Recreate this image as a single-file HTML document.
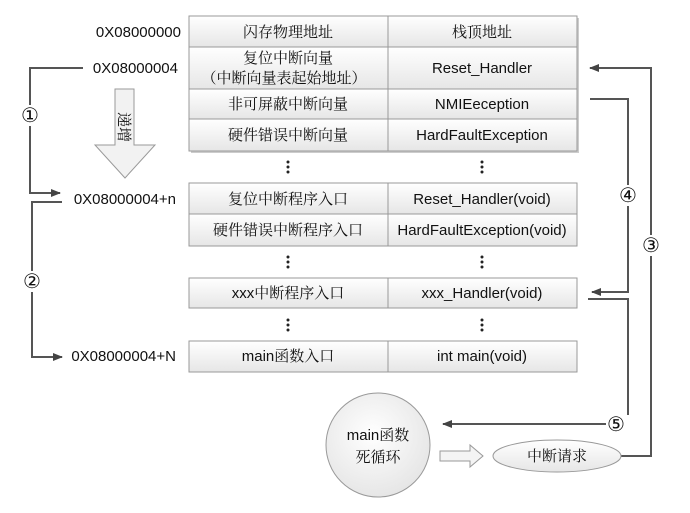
<!DOCTYPE html>
<html><head><meta charset="utf-8"><style>
html,body{margin:0;padding:0;background:#fff;}
svg{display:block;}
text{font-family:"Liberation Sans","Noto Sans CJK SC",sans-serif;font-size:15px;fill:#111;}
.cn{font-family:"Noto Serif CJK SC","Liberation Serif",serif;font-size:15px;}
.num{font-family:"DejaVu Sans",sans-serif;font-size:20px;}
</style></head><body>
<svg width="690" height="513" viewBox="0 0 690 513" xmlns="http://www.w3.org/2000/svg">
<defs>
<linearGradient id="g" x1="0" y1="0" x2="0" y2="1"><stop offset="0" stop-color="#ffffff"/><stop offset="1" stop-color="#e6e6e6"/></linearGradient>
<radialGradient id="rg" cx="0.45" cy="0.4" r="0.7"><stop offset="0" stop-color="#ffffff"/><stop offset="1" stop-color="#e2e2e2"/></radialGradient>
<marker id="ah" markerWidth="10" markerHeight="8" refX="9" refY="4" orient="auto" markerUnits="userSpaceOnUse"><path d="M0,0 L10,4 L0,8 Z" fill="#444"/></marker>
</defs>
<g stroke="#999" stroke-width="1">
<rect x="191" y="18" width="388" height="135" fill="#ccc" stroke="none"/>
<rect x="189" y="16" width="388" height="31" fill="url(#g)"/>
<rect x="189" y="47" width="388" height="42" fill="url(#g)"/>
<rect x="189" y="89" width="388" height="30" fill="url(#g)"/>
<rect x="189" y="119" width="388" height="32" fill="url(#g)"/>
<line x1="388" y1="16" x2="388" y2="151"/>
<rect x="189" y="183" width="388" height="31" fill="url(#g)"/>
<rect x="189" y="214" width="388" height="32" fill="url(#g)"/>
<line x1="388" y1="183" x2="388" y2="246"/>
<rect x="189" y="278" width="388" height="30" fill="url(#g)"/>
<line x1="388" y1="278" x2="388" y2="308"/>
<rect x="189" y="341" width="388" height="31" fill="url(#g)"/>
<line x1="388" y1="341" x2="388" y2="372"/>
</g>
<text x="288" y="37" text-anchor="middle" class="cn">闪存物理地址</text>
<text x="482" y="37" text-anchor="middle" class="cn">栈顶地址</text>
<text x="288" y="63" text-anchor="middle" class="cn">复位中断向量</text>
<text x="284" y="83" text-anchor="middle" class="cn">（中断向量表起始地址）</text>
<text x="482" y="73" text-anchor="middle">Reset_Handler</text>
<text x="288" y="109" text-anchor="middle" class="cn">非可屏蔽中断向量</text>
<text x="482" y="109" text-anchor="middle">NMIEeception</text>
<text x="288" y="140" text-anchor="middle" class="cn">硬件错误中断向量</text>
<text x="482" y="140" text-anchor="middle">HardFaultException</text>
<text x="288" y="204" text-anchor="middle" class="cn">复位中断程序入口</text>
<text x="482" y="204" text-anchor="middle">Reset_Handler(void)</text>
<text x="288" y="235" text-anchor="middle" class="cn">硬件错误中断程序入口</text>
<text x="482" y="235" text-anchor="middle">HardFaultException(void)</text>
<text x="288" y="298" text-anchor="middle"><tspan>xxx</tspan><tspan class="cn">中断程序入口</tspan></text>
<text x="482" y="298" text-anchor="middle">xxx_Handler(void)</text>
<text x="288" y="361" text-anchor="middle"><tspan>main</tspan><tspan class="cn">函数入口</tspan></text>
<text x="482" y="361" text-anchor="middle">int main(void)</text>
<g fill="#222">
<circle cx="288" cy="162" r="1.5"/><circle cx="288" cy="167" r="1.5"/><circle cx="288" cy="172" r="1.5"/>
<circle cx="482" cy="162" r="1.5"/><circle cx="482" cy="167" r="1.5"/><circle cx="482" cy="172" r="1.5"/>
<circle cx="288" cy="257" r="1.5"/><circle cx="288" cy="262" r="1.5"/><circle cx="288" cy="267" r="1.5"/>
<circle cx="482" cy="257" r="1.5"/><circle cx="482" cy="262" r="1.5"/><circle cx="482" cy="267" r="1.5"/>
<circle cx="288" cy="320" r="1.5"/><circle cx="288" cy="325" r="1.5"/><circle cx="288" cy="330" r="1.5"/>
<circle cx="482" cy="320" r="1.5"/><circle cx="482" cy="325" r="1.5"/><circle cx="482" cy="330" r="1.5"/>
</g>
<text x="181" y="37" text-anchor="end">0X08000000</text>
<text x="178" y="73" text-anchor="end">0X08000004</text>
<text x="176" y="204" text-anchor="end">0X08000004+n</text>
<text x="176" y="361" text-anchor="end">0X08000004+N</text>
<path d="M115,89 L134,89 L134,145 L155,145 L125,178 L95,145 L115,145 Z" fill="#f2f2f2" stroke="#999"/>
<text x="0" y="0" transform="translate(119,112) rotate(90)" class="cn">递增</text>
<g fill="none" stroke="#555" stroke-width="2">
<path d="M83,68 L30,68 L30,105"/><path d="M30,126 L30,193 L60,193" marker-end="url(#ah)"/>
<path d="M62,202 L32,202 L32,271"/><path d="M32,292 L32,357 L62,357" marker-end="url(#ah)"/>
<path d="M590,99 L628,99 L628,185"/><path d="M628,206 L628,292 L592,292" marker-end="url(#ah)"/>
<path d="M588,299 L628,299 L628,415"/><path d="M606,424 L443,424" marker-end="url(#ah)"/>
<path d="M620,456 L651,456 L651,256"/><path d="M651,235 L651,68 L590,68" marker-end="url(#ah)"/>
</g>
<g text-anchor="middle">
<text class="num" x="30" y="122">①</text><text class="num" x="32" y="288">②</text><text class="num" x="651" y="252">③</text><text class="num" x="628" y="202">④</text><text class="num" x="616" y="431">⑤</text>
</g>
<circle cx="378" cy="445" r="52" fill="url(#rg)" stroke="#999"/>
<text x="378" y="440" text-anchor="middle"><tspan>main</tspan><tspan class="cn">函数</tspan></text>
<text x="378" y="462" text-anchor="middle" class="cn">死循环</text>
<path d="M440,451 L470,451 L470,445 L483,456 L470,467 L470,461 L440,461 Z" fill="#f4f4f4" stroke="#999"/>
<ellipse cx="557" cy="456" rx="64" ry="16" fill="url(#g)" stroke="#999"/>
<text x="557" y="461" text-anchor="middle" class="cn">中断请求</text>
</svg>
</body></html>
